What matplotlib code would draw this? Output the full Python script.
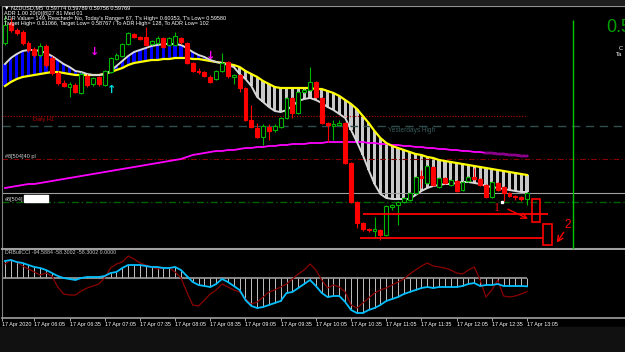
import matplotlib.pyplot as plt
from matplotlib.patches import Rectangle

# NZDUSD M5, 17 Apr 2020, bars 05:40 .. 13:05 (one value per bar)
opens = [0.60368, 0.60448, 0.60420, 0.60412, 0.60368, 0.60344, 0.60320, 0.60356, 0.60308, 0.60248,
         0.60208, 0.60192, 0.60200, 0.60168, 0.60236, 0.60204, 0.60232, 0.60200, 0.60252, 0.60304,
         0.60316, 0.60364, 0.60404, 0.60392, 0.60392, 0.60364, 0.60368, 0.60388, 0.60360, 0.60360,
         0.60388, 0.60368, 0.60288, 0.60256, 0.60252, 0.60232, 0.60224, 0.60256, 0.60292, 0.60232,
         0.60240, 0.60188, 0.60060, 0.60028, 0.59992, 0.60032, 0.60020, 0.60032, 0.60068, 0.60148,
         0.60088, 0.60172, 0.60180, 0.60212, 0.60148, 0.60048, 0.60036, 0.60040, 0.60048, 0.59888,
         0.59732, 0.59648, 0.59624, 0.59616, 0.59620, 0.59600, 0.59712, 0.59720, 0.59732, 0.59740,
         0.59768, 0.59836, 0.59808, 0.59872, 0.59792, 0.59828, 0.59800, 0.59816, 0.59780, 0.59816,
         0.59832, 0.59824, 0.59800, 0.59752, 0.59808, 0.59792, 0.59768, 0.59756, 0.59752, 0.59744]
highs = [0.60480, 0.60468, 0.60428, 0.60420, 0.60376, 0.60352, 0.60368, 0.60364, 0.60316, 0.60256,
         0.60220, 0.60212, 0.60208, 0.60252, 0.60244, 0.60232, 0.60236, 0.60260, 0.60312, 0.60328,
         0.60368, 0.60412, 0.60408, 0.60396, 0.60432, 0.60380, 0.60396, 0.60392, 0.60392, 0.60412,
         0.60392, 0.60372, 0.60292, 0.60268, 0.60256, 0.60240, 0.60260, 0.60328, 0.60296, 0.60244,
         0.60244, 0.60192, 0.60120, 0.60048, 0.60044, 0.60044, 0.60044, 0.60072, 0.60152, 0.60152,
         0.60176, 0.60184, 0.60272, 0.60216, 0.60152, 0.60052, 0.60060, 0.60060, 0.60052, 0.59892,
         0.59736, 0.59652, 0.59628, 0.59672, 0.59624, 0.59720, 0.59724, 0.59736, 0.59752, 0.59772,
         0.59836, 0.59860, 0.59880, 0.59876, 0.59832, 0.59832, 0.59824, 0.59820, 0.59816, 0.59836,
         0.59868, 0.59828, 0.59804, 0.59816, 0.59812, 0.59796, 0.59772, 0.59760, 0.59756, 0.59772]
lows = [0.60360, 0.60412, 0.60400, 0.60360, 0.60332, 0.60312, 0.60312, 0.60272, 0.60240, 0.60200,
        0.60192, 0.60152, 0.60168, 0.60164, 0.60192, 0.60196, 0.60196, 0.60196, 0.60248, 0.60300,
        0.60312, 0.60360, 0.60388, 0.60380, 0.60356, 0.60360, 0.60364, 0.60348, 0.60356, 0.60356,
        0.60364, 0.60284, 0.60252, 0.60244, 0.60232, 0.60208, 0.60220, 0.60252, 0.60228, 0.60204,
        0.60172, 0.60056, 0.60028, 0.59988, 0.59960, 0.59980, 0.60012, 0.60028, 0.60064, 0.60068,
        0.60084, 0.60168, 0.60176, 0.60148, 0.60044, 0.59972, 0.59980, 0.60040, 0.59884, 0.59728,
        0.59628, 0.59616, 0.59612, 0.59588, 0.59580, 0.59596, 0.59700, 0.59640, 0.59728, 0.59736,
        0.59764, 0.59788, 0.59804, 0.59796, 0.59788, 0.59804, 0.59796, 0.59772, 0.59776, 0.59812,
        0.59820, 0.59796, 0.59748, 0.59748, 0.59776, 0.59736, 0.59752, 0.59740, 0.59736, 0.59720]
closes = [0.60440, 0.60420, 0.60408, 0.60368, 0.60340, 0.60320, 0.60356, 0.60280, 0.60248, 0.60208,
          0.60196, 0.60204, 0.60172, 0.60244, 0.60200, 0.60228, 0.60204, 0.60256, 0.60308, 0.60320,
          0.60364, 0.60408, 0.60392, 0.60384, 0.60360, 0.60376, 0.60388, 0.60352, 0.60388, 0.60396,
          0.60372, 0.60288, 0.60256, 0.60252, 0.60236, 0.60212, 0.60256, 0.60288, 0.60236, 0.60240,
          0.60188, 0.60060, 0.60032, 0.59992, 0.60036, 0.60016, 0.60036, 0.60068, 0.60148, 0.60088,
          0.60172, 0.60180, 0.60212, 0.60152, 0.60048, 0.60040, 0.60044, 0.60048, 0.59888, 0.59732,
          0.59648, 0.59624, 0.59620, 0.59624, 0.59600, 0.59716, 0.59720, 0.59732, 0.59748, 0.59768,
          0.59832, 0.59828, 0.59876, 0.59800, 0.59828, 0.59808, 0.59820, 0.59776, 0.59812, 0.59832,
          0.59824, 0.59800, 0.59752, 0.59812, 0.59780, 0.59768, 0.59756, 0.59752, 0.59744, 0.59769]

# fast (silver) and slow (yellow) averages, the ribbon is filled between them
fast_ma = [0.60284, 0.60308, 0.60324, 0.60336, 0.60340, 0.60340, 0.60336, 0.60328, 0.60316, 0.60300,
           0.60284, 0.60272, 0.60256, 0.60252, 0.60244, 0.60240, 0.60240, 0.60244, 0.60256, 0.60276,
           0.60296, 0.60316, 0.60332, 0.60340, 0.60348, 0.60356, 0.60360, 0.60364, 0.60364, 0.60364,
           0.60360, 0.60348, 0.60332, 0.60320, 0.60312, 0.60300, 0.60292, 0.60288, 0.60280, 0.60272,
           0.60244, 0.60224, 0.60196, 0.60152, 0.60132, 0.60112, 0.60096, 0.60092, 0.60100, 0.60116,
           0.60136, 0.60144, 0.60148, 0.60140, 0.60128, 0.60112, 0.60100, 0.60084, 0.60068, 0.60020,
           0.59972, 0.59920, 0.59860, 0.59804, 0.59764, 0.59748, 0.59744, 0.59744, 0.59744, 0.59744,
           0.59760, 0.59776, 0.59788, 0.59796, 0.59800, 0.59804, 0.59804, 0.59808, 0.59812, 0.59812,
           0.59808, 0.59804, 0.59796, 0.59792, 0.59788, 0.59784, 0.59780, 0.59776, 0.59772, 0.59772]
slow_ma = [0.60196, 0.60212, 0.60224, 0.60232, 0.60236, 0.60240, 0.60244, 0.60248, 0.60252, 0.60252,
           0.60248, 0.60244, 0.60240, 0.60240, 0.60240, 0.60240, 0.60240, 0.60244, 0.60252, 0.60260,
           0.60268, 0.60280, 0.60288, 0.60292, 0.60296, 0.60300, 0.60300, 0.60304, 0.60304, 0.60308,
           0.60308, 0.60308, 0.60304, 0.60304, 0.60300, 0.60296, 0.60292, 0.60288, 0.60284, 0.60280,
           0.60272, 0.60256, 0.60244, 0.60232, 0.60216, 0.60204, 0.60192, 0.60188, 0.60188, 0.60188,
           0.60188, 0.60188, 0.60188, 0.60184, 0.60184, 0.60176, 0.60168, 0.60156, 0.60140, 0.60124,
           0.60104, 0.60076, 0.60048, 0.60016, 0.59988, 0.59968, 0.59956, 0.59948, 0.59940, 0.59932,
           0.59924, 0.59920, 0.59912, 0.59908, 0.59900, 0.59896, 0.59892, 0.59888, 0.59884, 0.59880,
           0.59876, 0.59872, 0.59868, 0.59864, 0.59860, 0.59856, 0.59852, 0.59848, 0.59844, 0.59840]
long_ma = [0.59788, 0.59792, 0.59796, 0.59800, 0.59804, 0.59804, 0.59808, 0.59812, 0.59816, 0.59820,
           0.59824, 0.59828, 0.59832, 0.59836, 0.59840, 0.59844, 0.59848, 0.59852, 0.59856, 0.59860,
           0.59864, 0.59868, 0.59872, 0.59876, 0.59880, 0.59884, 0.59888, 0.59892, 0.59896, 0.59900,
           0.59904, 0.59912, 0.59920, 0.59924, 0.59928, 0.59932, 0.59936, 0.59936, 0.59940, 0.59940,
           0.59944, 0.59948, 0.59948, 0.59952, 0.59952, 0.59956, 0.59956, 0.59960, 0.59960, 0.59964,
           0.59964, 0.59964, 0.59968, 0.59968, 0.59968, 0.59972, 0.59972, 0.59972, 0.59972, 0.59972,
           0.59972, 0.59972, 0.59968, 0.59968, 0.59964, 0.59964, 0.59960, 0.59960, 0.59956, 0.59956,
           0.59952, 0.59952, 0.59948, 0.59948, 0.59944, 0.59944, 0.59940, 0.59940, 0.59936, 0.59936,
           0.59932, 0.59932, 0.59928, 0.59928, 0.59924, 0.59924, 0.59920, 0.59920, 0.59916, 0.59916]

# CCI sub window
cci_main = [119, 126, 112, 105, 91, 77, 70, 56, 35, 14,
            0, -7, -14, 0, 7, 7, 7, 14, 35, 42,
            70, 91, 91, 91, 84, 77, 77, 70, 70, 77,
            56, 14, -28, -49, -56, -63, -42, -7, -28, -56,
            -84, -154, -196, -210, -203, -189, -175, -161, -105, -98,
            -70, -42, -14, -56, -105, -133, -126, -126, -168, -224,
            -245, -245, -224, -210, -189, -161, -147, -133, -112, -98,
            -84, -70, -63, -70, -63, -63, -63, -63, -56, -42,
            -35, -56, -49, -49, -42, -56, -56, -56, -56, -58.3]
cci_fast = [98, 126, 112, 84, 63, 42, 21, 35, 14, -63,
            -112, -119, -119, -91, -70, -56, -42, 0, 70, 98,
            112, 154, 133, 105, 91, 77, 63, 70, 70, 42,
            0, -98, -189, -196, -154, -112, -84, -42, -63, -84,
            -98, -147, -182, -168, -133, -98, -84, -63, -42, -7,
            28, 56, 98, 56, -14, -70, -49, -63, -98, -189,
            -210, -175, -140, -105, -84, -70, -49, -28, -7, 28,
            56, 84, 105, 84, 77, 70, 56, 35, 28, 56,
            77, -14, -133, -84, -14, -126, -133, -126, -112, -94.6]

tick_bars = [-0.45, 5, 11, 17, 23, 29, 35, 41, 47, 53, 59, 65, 71, 77, 83, 89]
tick_labels = ["17 Apr 2020", "17 Apr 06:05", "17 Apr 06:35", "17 Apr 07:05", "17 Apr 07:35",
               "17 Apr 08:05", "17 Apr 08:35", "17 Apr 09:05", "17 Apr 09:35", "17 Apr 10:05",
               "17 Apr 10:35", "17 Apr 11:05", "17 Apr 11:35", "17 Apr 12:05", "17 Apr 12:35",
               "17 Apr 13:05"]

header = ["\u25bc NZDUSD,M5  0.59774 0.59789 0.59756 0.59769",
          "ADR 1.00 20(0)[8]27 81 Med 01",
          "ADR Value= 149, Reached= No, Today's Range= 67, T's High= 0.60353, T's Low= 0.59580",
          "Target High= 0.61066, Target Low= 0.58767 / To ADR High= 128, To ADR Low= 102"]

# price levels
daily_h1 = 0.60076
yesterday_high = 0.60036
pl_level = 0.59904
bid = 0.59768
green_level = 0.59732
target_line_1 = 0.59684
target_line_2 = 0.59588
now_bar = 96.8

plt.rcParams['font.family'] = ['Liberation Sans', 'DejaVu Sans']
small = ['Liberation Sans Narrow', 'Liberation Sans', 'DejaVu Sans']

W, H = 625, 352
fig = plt.figure(figsize=(W / 100, H / 100), dpi=100, facecolor='black')
fig.patches.append(Rectangle((0, 1 - 5 / H), 1, 5 / H, transform=fig.transFigure,
                             color='#1e1e1e', zorder=0))
fig.patches.append(Rectangle((0, 0), 1, 25 / H, transform=fig.transFigure,
                             color='#111111', zorder=0))


def px_axes(x0, y0, x1, y1):
    return fig.add_axes([x0 / W, 1 - y1 / H, (x1 - x0) / W, (y1 - y0) / H])


xlim = (-0.51, 105.7)
n = len(opens)
idx = list(range(n))

ax = px_axes(2, 6, 625, 249)
ax.set_facecolor('black')
ax.set_xlim(*xlim)
ax.set_ylim(0.59544, 0.60516)
ax.set_xticks([])
ax.set_yticks([])
ax.spines['right'].set_visible(False)
ax.spines['left'].set_color('#808080')
ax.spines['top'].set_color('#b0b0b0')
ax.spines['bottom'].set_color('#a0a0a0')
ax.spines['bottom'].set_linewidth(1.5)

# ribbon between the averages
rib_bottom = [min(f, s) for f, s in zip(fast_ma, slow_ma)]
rib_height = [abs(f - s) for f, s in zip(fast_ma, slow_ma)]
rib_color = ['#0000ff' if f > s else '#c8c8c8' for f, s in zip(fast_ma, slow_ma)]
ax.bar(idx, rib_height, bottom=rib_bottom, width=0.55, color=rib_color, linewidth=0, zorder=1)

ax.plot(idx, long_ma, color='#ff00ff', lw=1.3, zorder=2)
ax.plot(idx[82:], long_ma[82:], color='#8b008b', lw=2, zorder=2)

# level lines
ax.hlines(daily_h1, -0.5, 88.7, color='#c00000', lw=0.8, linestyles=(0, (1, 1.5)), zorder=1)
ax.hlines(yesterday_high, -0.5, 106, color='#2f4f4f', lw=1, linestyles=(0, (6, 4)), zorder=1)
ax.hlines(pl_level, -0.5, 106, color='#8b0000', lw=0.8, linestyles=(0, (5, 2, 1, 2)), zorder=1)
ax.hlines(bid, -0.5, 106, color='#a0a0a0', lw=0.8, zorder=1)
ax.hlines(green_level, -0.5, 106, color='#006400', lw=1, linestyles=(0, (5, 2, 1, 2)), zorder=1)
ax.text(4.8, daily_h1 - 0.00012, "Daily H1", color='#c00000', fontsize=4.0, va='center',
        family=small)
ax.text(65.3, yesterday_high - 0.00016, "Yesterdays High", color='#3a5c5c', fontsize=4.7,
        va='center')
ax.text(0, pl_level + 0.00010, "#8[504]40 pl", color='#d0d0d0', fontsize=4.0, va='center',
        family=small)
ax.text(0, bid - 0.00024, "#8[504]", color='#d0d0d0', fontsize=4.0, va='center', family=small)
ax.add_patch(Rectangle((3.24, bid - 0.00036), 4.1, 0.00028, color='white', zorder=5))

ax.plot(idx, slow_ma, color='#ffff00', lw=1.6, zorder=3)
ax.plot(idx, fast_ma, color='#d8d8d8', lw=1.4, zorder=3)

# candles
for i in idx:
    o, h, l, c = opens[i], highs[i], lows[i], closes[i]
    col = '#00b400' if c >= o else '#ff0000'
    ax.vlines(i, l, h, color=col, lw=0.8, zorder=4)
    face = 'black' if c >= o else '#ff0000'
    ax.add_patch(Rectangle((i - 0.33, min(o, c)), 0.66, max(abs(c - o), 0.00002),
                           facecolor=face, edgecolor=col, lw=0.8, zorder=5))

# signal arrows
ax.text(15.3, 0.60332, "\u2193", color='#ff00ff', fontsize=8, ha='center', va='center',
        fontweight='bold', family='DejaVu Sans', zorder=6)
ax.text(35.1, 0.60316, "\u2193", color='#ff00ff', fontsize=8, ha='center', va='center',
        fontweight='bold', family='DejaVu Sans', zorder=6)
ax.text(18.2, 0.60180, "\u2191", color='#00e0e0', fontsize=8, ha='center', va='center',
        fontweight='bold', family='DejaVu Sans', zorder=6)

# target drawing
ax.hlines(target_line_1, 61.0, 92.6, color='#ff0000', lw=1.3, zorder=6)
ax.hlines(target_line_2, 60.5, 91.7, color='#ff0000', lw=1.3, zorder=6)
ax.add_patch(Rectangle((89.9, 0.59652), 1.3, 0.00092, fill=False, edgecolor='#ff0000',
                       lw=1.2, zorder=6))
ax.add_patch(Rectangle((91.7, 0.59560), 1.6, 0.00084, fill=False, edgecolor='#ff0000',
                       lw=1.2, zorder=6))
ax.text(83.9, 0.59708, "1", color='#ff0000', fontsize=8.5, ha='center', va='center',
        family='Liberation Serif', zorder=8)
ax.text(95.9, 0.59640, "2", color='#ff0000', fontsize=8.5, ha='center', va='center', zorder=8)
ax.annotate("", xy=(89.6, 0.59660), xytext=(85.3, 0.59708),
            arrowprops=dict(arrowstyle='->', color='#ff0000', lw=1), zorder=6)
ax.annotate("", xy=(93.8, 0.59560), xytext=(95.5, 0.59620),
            arrowprops=dict(arrowstyle='->', color='#ff0000', lw=1), zorder=6)
ax.plot(84.7, 0.59732, 's', color='white', ms=1.5, zorder=7)

ax.vlines(now_bar, 0.59544, 0.60460, color='#00c800', lw=1, zorder=6)

# indicator window
ax2 = px_axes(2, 250, 625, 318)
ax2.set_facecolor('black')
ax2.set_xlim(*xlim)
ax2.set_ylim(-280, 196)
ax2.set_yticks([])
ax2.spines['right'].set_visible(False)
ax2.spines['top'].set_visible(False)
ax2.spines['left'].set_color('#808080')
ax2.spines['bottom'].set_color('#a0a0a0')
ax2.spines['bottom'].set_linewidth(1.2)
ax2.vlines(idx, 0, cci_main, color='#c0c0c0', lw=0.7)
ax2.hlines(0, -0.5, 89, color='#a0a0a0', lw=1.2)
ax2.plot(idx, cci_fast, color='#8b0000', lw=0.9)
ax2.plot(idx, cci_main, color='#00bfff', lw=1.3)
ax2.text(0, 175, "DRBullCCI -94.5884 -58.3002 -58.3002 0.0000", color='#c8c8c8',
         fontsize=3.8, va='center', family=small)
ax2.set_xticks(tick_bars)
ax2.set_xticklabels(tick_labels, family=small)
ax2.tick_params(axis='x', colors='#c0c0c0', labelsize=3.9, length=2, pad=1.0, width=0.6)
for lab in ax2.get_xticklabels():
    lab.set_ha('left')
    lab.set_color('white')

# chart header
for k, line in enumerate(header):
    fig.text(4 / W, 1 - (8 + 5.3 * k) / H, line, color='white', fontsize=4.0, va='center',
             family=small)

fig.text(606 / W, 1 - 27 / H, "0.5", color='#00a000', fontsize=13, va='center')
fig.text(619 / W, 1 - 48 / H, "C", color='white', fontsize=4.2, va='center')
fig.text(616 / W, 1 - 54 / H, "Ta", color='white', fontsize=4.2, va='center')

fig.savefig('out.png', dpi=100, facecolor='black')
